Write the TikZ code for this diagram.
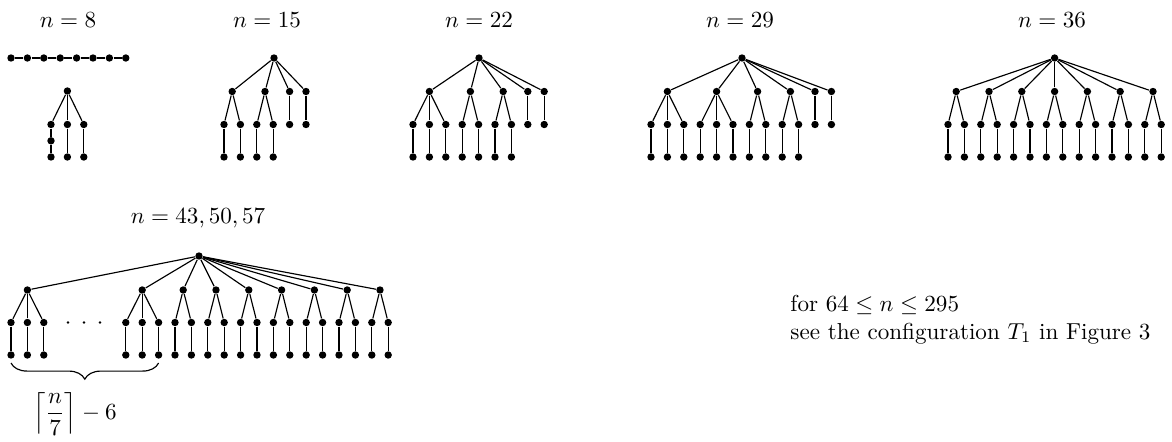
\documentclass[tikz,border=0pt]{standalone}
\usetikzlibrary{decorations.pathreplacing}
\tikzset{
  v/.style={circle,fill=black,inner sep=0pt,minimum size=3.2pt},
  sd/.style={circle,fill=black,inner sep=0pt,minimum size=1.2pt},
  e/.style={line width=0.5pt},
  ttl/.style={anchor=base,inner sep=0pt}
}
\begin{document}
\begin{tikzpicture}[x=0.4329pt,y=-0.4329pt]
\useasboundingbox (0,0) rectangle (1172,441);
% titles
\node[ttl] (t8) at (68,27) {$n=8$};
\node[ttl] (t15) at (267,27) {$n=15$};
\node[ttl] (t22) at (479,27) {$n=22$};
\node[ttl] (t29) at (740,27) {$n=29$};
\node[ttl] (t36) at (1052,27) {$n=36$};
\node[ttl] (t43) at (198,223) {$n=43,50,57$};
% ---------- n = 8 : path
\foreach \k in {1,...,8} {\pgfmathsetmacro\xx{11+16.4*(\k-1)} \node[v] (a\k) at (\xx,58) {};}
\foreach \k [evaluate=\k as \j using int(\k+1)] in {1,...,7} \draw[e] (a\k) -- (a\j);
% ---------- n = 8 : tree
\node[v] (a0) at (67.4,91) {};
\foreach \n/\x in {a01/51,a02/67.4,a03/83.8} {\node[v] (\n) at (\x,124.5) {}; \draw[e] (a0) -- (\n);}
\node[v] (a01m) at (51,140.8) {};
\draw[e] (a01) -- (a01m);
\node[v] (a01L) at (51,157) {}; \draw[e] (a01m) -- (a01L);
\foreach \n/\x in {a02/67.4,a03/83.8} {\node[v] (\n L) at (\x,157) {}; \draw[e] (\n) -- (\n L);}
% ---------- n = 15
\node[v] (b) at (274,58) {};
\foreach \n/\x in {b1/232.2,b2/265,b3/289.6,b4/306} {\node[v] (\n) at (\x,91.5) {}; \draw[e] (b) -- (\n);}
\foreach \n/\p/\x in {b11/b1/224,b12/b1/240.4,b21/b2/256.8,b22/b2/273.2,b31/b3/289.6,b41/b4/306}
  {\node[v] (\n) at (\x,124.5) {}; \draw[e] (\p) -- (\n);}
\foreach \n/\x in {b11/224,b12/240.4,b21/256.8,b22/273.2}
  {\node[v] (\n L) at (\x,157) {}; \draw[e] (\n) -- (\n L);}
% ---------- n = 22
\node[v] (c) at (479,58) {};
\foreach \n/\x in {c1/429.4,c2/470.4,c3/503.2,c4/527.8,c5/544.2} {\node[v] (\n) at (\x,91.5) {}; \draw[e] (c) -- (\n);}
\foreach \n/\p/\x in {c11/c1/413,c12/c1/429.4,c13/c1/445.8,c21/c2/462.2,c22/c2/478.6,c31/c3/495,c32/c3/511.4,c41/c4/527.8,c51/c5/544.2}
  {\node[v] (\n) at (\x,124.5) {}; \draw[e] (\p) -- (\n);}
\foreach \n/\x in {c11/413,c12/429.4,c13/445.8,c21/462.2,c22/478.6,c31/495,c32/511.4}
  {\node[v] (\n L) at (\x,157) {}; \draw[e] (\n) -- (\n L);}
% ---------- n = 29
\node[v] (d) at (742,58) {};
\foreach \n/\x in {d1/667.4,d2/716.6,d3/757.6,d4/790.4,d5/815,d6/831.4} {\node[v] (\n) at (\x,91.5) {}; \draw[e] (d) -- (\n);}
\foreach \n/\p/\x in {d11/d1/651,d12/d1/667.4,d13/d1/683.8,d21/d2/700.2,d22/d2/716.6,d23/d2/733,d31/d3/749.4,d32/d3/765.8,d41/d4/782.2,d42/d4/798.6,d51/d5/815,d61/d6/831.4}
  {\node[v] (\n) at (\x,124.5) {}; \draw[e] (\p) -- (\n);}
\foreach \n/\x in {d11/651,d12/667.4,d13/683.8,d21/700.2,d22/716.6,d23/733,d31/749.4,d32/765.8,d41/782.2,d42/798.6}
  {\node[v] (\n L) at (\x,157) {}; \draw[e] (\n) -- (\n L);}
% ---------- n = 36
\node[v] (g) at (1054.6,58) {};
\foreach \i in {1,...,7} {
  \pgfmathsetmacro\xx{956.2+32.8*(\i-1)}
  \node[v] (g\i) at (\xx,91.5) {}; \draw[e] (g) -- (g\i);
  \node[v] (g\i a) at (\xx-8.2,124.5) {}; \draw[e] (g\i) -- (g\i a);
  \node[v] (g\i b) at (\xx+8.2,124.5) {}; \draw[e] (g\i) -- (g\i b);
  \node[v] (g\i aL) at (\xx-8.2,157) {}; \draw[e] (g\i a) -- (g\i aL);
  \node[v] (g\i bL) at (\xx+8.2,157) {}; \draw[e] (g\i b) -- (g\i bL);
}
% ---------- n = 43, 50, 57
\node[v] (f) at (199,256) {};
\foreach \n/\x in {f1/27.4,f2/142.2} {
  \node[v] (\n) at (\x,290) {}; \draw[e] (f) -- (\n);
  \foreach \s/\dx in {a/-16.4,b/0,c/16.4} {
    \node[v] (\n\s) at (\x+\dx,322.5) {}; \draw[e] (\n) -- (\n\s);
    \node[v] (\n\s L) at (\x+\dx,355) {}; \draw[e] (\n\s) -- (\n\s L);
  }
}
\foreach \i in {3,...,9} {
  \pgfmathsetmacro\xx{183.2+32.8*(\i-3)}
  \node[v] (f\i) at (\xx,290) {}; \draw[e] (f) -- (f\i);
  \node[v] (f\i a) at (\xx-8.2,322.5) {}; \draw[e] (f\i) -- (f\i a);
  \node[v] (f\i b) at (\xx+8.2,322.5) {}; \draw[e] (f\i) -- (f\i b);
  \node[v] (f\i aL) at (\xx-8.2,355) {}; \draw[e] (f\i a) -- (f\i aL);
  \node[v] (f\i bL) at (\xx+8.2,355) {}; \draw[e] (f\i b) -- (f\i bL);
}
\node[sd] (dot1) at (68,322.5) {};
\node[sd] (dot2) at (84,322.5) {};
\node[sd] (dot3) at (100,322.5) {};
% brace
\coordinate (brl) at (11,363);
\coordinate (brr) at (158.6,363);
\draw[e,decorate,decoration={brace,mirror,amplitude=7pt}] (brl) -- (brr);
\node (brlab) at (75,414) {$\displaystyle\left\lceil\frac{n}{7}\right\rceil-6$};
% right text
\node[anchor=base west,inner sep=0pt] (r1) at (790,311) {for $64\le n\le 295$};
\node[anchor=base west,inner sep=0pt] (r2) at (790,339) {see the configuration $T_1$ in Figure 3};
\end{tikzpicture}
\end{document}
